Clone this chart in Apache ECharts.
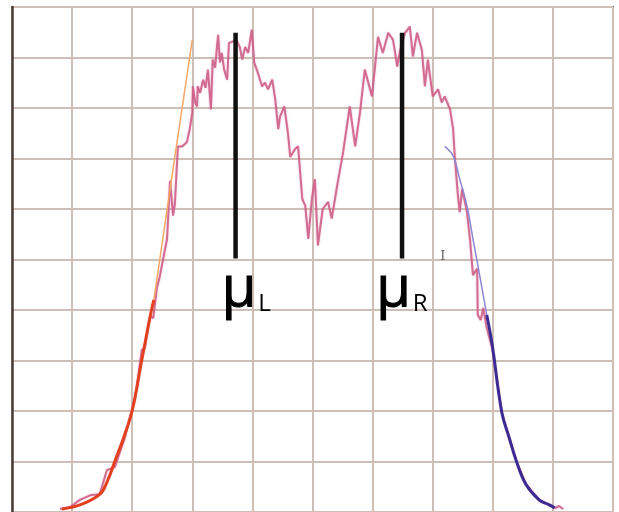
<!DOCTYPE html>
<html>
<head>
<meta charset="utf-8">
<title>muL muR</title>
<script src="https://cdn.jsdelivr.net/npm/echarts@6/dist/echarts.min.js"></script>
<style>
html, body { margin: 0; padding: 0; background: #fff; }
#chart { width: 619px; height: 512px; }
</style>
</head>
<body>
<div id="chart"></div>
<script>
// measured (pink) profile
var measuredX = [0.80,0.97,1.13,1.30,1.46,1.58,1.71,1.88,1.96,2.05,2.13,2.16,2.21,2.30,2.35,2.41,2.46,2.51,2.58,2.63,2.68,2.71,2.76,
    2.83,2.91,2.96,3.00,3.01,3.05,3.08,3.09,3.13,3.18,3.22,3.26,3.31,3.34,3.38,3.41,3.43,3.46,3.49,3.53,3.58,3.61,3.66,3.73,3.79,3.83,3.88,3.93,3.99,4.03,4.09,4.16,4.21,4.26,4.33,4.38,4.43,4.46,4.53,4.59,4.63,
    4.71,4.76,4.83,4.88,4.93,4.99,5.04,5.09,5.17,5.26,5.32,5.41,5.51,5.62,5.71,5.79,5.87,5.99,6.09,6.17,6.26,6.34,6.41,6.46,6.54,6.62,6.67,6.74,6.82,6.87,6.92,7.00,7.09,7.15,7.20,7.29,7.34,7.37,7.42,7.45,7.49,7.57,7.62,7.67,7.74,7.75,7.80,7.84,7.90,7.99,8.15,8.27,8.40,8.55,8.77,8.94,9.05,9.10,9.17];
var measuredY = [0.06,0.10,0.24,0.33,0.35,0.83,0.89,1.48,1.87,2.26,2.95,3.21,3.25,3.88,3.84,4.43,4.67,4.98,5.41,6.56,5.87,6.10,7.24,
    7.24,7.32,7.60,7.91,8.43,8.10,8.03,8.43,8.30,8.56,8.40,8.76,7.97,8.96,8.80,9.21,9.45,8.90,9.09,8.76,8.56,9.29,9.31,9.35,9.21,8.96,9.21,9.09,9.55,8.90,8.70,8.43,8.50,8.37,8.56,8.17,7.58,7.83,8.03,7.52,7.03,
    7.19,7.24,6.20,6.06,5.41,6.20,6.59,5.28,6.00,6.14,5.81,6.46,7.13,8.03,7.24,7.91,8.76,8.23,9.41,9.09,9.49,9.35,8.82,9.15,9.49,9.61,9.02,9.49,9.15,8.43,8.96,8.23,8.37,8.11,8.23,7.97,7.58,6.99,6.26,5.94,6.40,5.94,5.41,4.69,4.82,3.90,3.80,4.04,3.64,3.25,1.97,1.48,0.98,0.55,0.24,0.14,0.08,0.12,0.06];

// left fit (red, then thin orange)
var leftFitX = [0.83,1.13,1.46,1.58,1.71,1.86,2.00,2.16,2.30,2.36];
var leftFitY = [0.06,0.14,0.35,0.59,1.00,1.48,2.01,3.01,3.88,4.20];
var leftExtX = [2.36,2.68,3.00];
var leftExtY = [4.20,6.80,9.35];

// right fit (thin blue, then dark)
var rightExtX = [7.20,7.34,7.45,7.57,7.67,7.79,7.90];
var rightExtY = [7.24,7.05,6.59,6.06,5.41,4.63,3.90];
var rightFitX = [7.90,7.99,8.15,8.27,8.40,8.55,8.77,8.94,9.03];
var rightFitY = [3.90,3.31,1.97,1.48,0.98,0.55,0.24,0.14,0.08];

// mean markers
var meanX = [3.72, 6.49];
var meanTop = 9.49;
var meanBottom = 5.02;
var meanNames = ['L', 'R'];
var meanLabelX = [3.49, 6.06];
var meanLabelY = 4.39;

function pairs(xs, ys) {
    var out = [];
    for (var i = 0; i < xs.length; i++) {
        out.push([xs[i], ys[i]]);
    }
    return out;
}

function plainLine(data, color, width, z) {
    return {
        type: 'line', data: data, symbol: 'none', smooth: false, z: z,
        lineStyle: { color: color, width: width }
    };
}

var series = [];
series.push({
    type: 'line', data: pairs(measuredX, measuredY), symbol: 'none', z: 2,
    lineStyle: { color: '#cd5a85', width: 2, opacity: 0.85, shadowColor: 'rgba(220,120,160,0.6)', shadowBlur: 2 }
});
var redFit = plainLine(pairs(leftFitX, leftFitY), '#e2401f', 3, 3);
redFit.smooth = 0.4;
series.push(redFit);
series.push(plainLine(pairs(leftExtX, leftExtY), '#f3a869', 1.5, 3));
var blueExt = plainLine(pairs(rightExtX, rightExtY), '#8d88d4', 1.5, 3);
blueExt.smooth = 0.4;
series.push(blueExt);
var blueFit = plainLine(pairs(rightFitX, rightFitY), '#3b2b93', 3, 3);
blueFit.smooth = 0.4;
series.push(blueFit);

//竖线 mu
for (var i = 0; i < meanX.length; i++) {
    series.push(plainLine([[meanX[i], meanBottom], [meanX[i], meanTop]], '#111111', 4.5, 5));
}

// mu labels (scatter default opacity is 0.8, so force 1)
var labelData = [];
for (var j = 0; j < meanNames.length; j++) {
    labelData.push({ value: [meanLabelX[j], meanLabelY], name: meanNames[j] });
}
series.push({
    type: 'scatter', data: labelData, symbolSize: 0, z: 6,
    itemStyle: { color: '#000000', opacity: 1 },
    label: {
        show: true, position: 'right', distance: 0, color: '#000000',
        formatter: function (p) { return '{mu|\u03bc}{sub|' + p.name + '}'; },
        rich: {
            mu: { fontSize: 56, fontFamily: 'Open Sans', color: '#000000', lineHeight: 60, textBorderColor: '#000000', textBorderWidth: 1 },
            sub: { fontSize: 24, fontFamily: 'Open Sans', color: '#000000', verticalAlign: 'bottom', lineHeight: 60, padding: [0, 0, 4, 2] }
        }
    }
});

// cursor glyph left in the screenshot
series.push({
    type: 'scatter', data: [[7.17, 5.06]], symbolSize: 0, z: 6,
    itemStyle: { color: '#666666', opacity: 1 },
    label: { show: true, position: 'inside', formatter: 'I', fontSize: 13, fontFamily: 'DejaVu Serif', color: '#666666' }
});

var option = {
    animation: false,
    backgroundColor: '#ffffff',
    grid: { left: 12, top: 7, width: 601, height: 508, show: true, borderColor: '#707070', borderWidth: 2 },
    xAxis: {
        type: 'value', min: 0, max: 10, interval: 1,
        axisLine: { show: false }, axisTick: { show: false }, axisLabel: { show: false },
        splitLine: { show: true, lineStyle: { color: '#cdbfb8', width: 2 } }
    },
    yAxis: {
        type: 'value', min: 0, max: 10, interval: 1,
        axisLine: { show: true, lineStyle: { color: '#4b3b36', width: 2.5 } },
        axisTick: { show: false }, axisLabel: { show: false },
        splitLine: { show: true, lineStyle: { color: '#cdbfb8', width: 2 } }
    },
    series: series
};

var myChart = echarts.init(document.getElementById('chart'));
myChart.setOption(option);
</script>
</body>
</html>
